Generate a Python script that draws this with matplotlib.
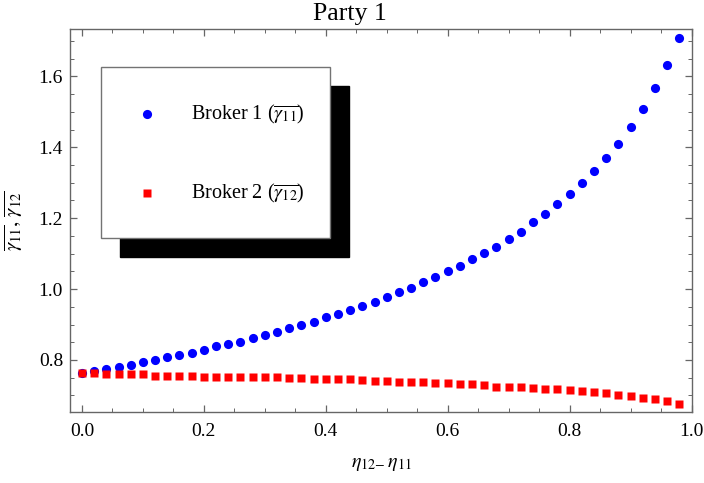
import numpy as np
import matplotlib
matplotlib.use("Agg")
import matplotlib.pyplot as plt
from matplotlib.patches import Rectangle
from matplotlib.ticker import MultipleLocator

plt.rcParams['font.family'] = ['Liberation Serif', 'DejaVu Serif']
plt.rcParams['mathtext.fontset'] = 'stix'

# ---- data ----
eta = [round(0.02 * i, 2) for i in range(50)]
broker1 = [0.762, 0.769, 0.775, 0.780, 0.787, 0.793, 0.799, 0.807, 0.815, 0.821,
           0.829, 0.838, 0.846, 0.852, 0.863, 0.871, 0.880, 0.889,
           0.900, 0.908, 0.920, 0.930, 0.941, 0.952, 0.964, 0.978, 0.992, 1.003,
           1.020, 1.034, 1.050, 1.064, 1.084, 1.101, 1.120, 1.140, 1.162, 1.188,
           1.213, 1.239, 1.267, 1.298, 1.333, 1.370, 1.409, 1.457, 1.507, 1.566,
           1.631, 1.709]
broker2 = [0.762, 0.762, 0.759, 0.759, 0.759, 0.759, 0.756, 0.756, 0.756, 0.756,
           0.753, 0.753, 0.753, 0.751, 0.751, 0.751, 0.751, 0.749, 0.748, 0.747,
           0.747, 0.745, 0.745, 0.743, 0.742, 0.740,
           0.739, 0.737, 0.737, 0.734, 0.734, 0.731, 0.731, 0.728, 0.725, 0.725,
           0.723, 0.720, 0.717, 0.717, 0.714, 0.711, 0.709, 0.706, 0.700, 0.697,
           0.692, 0.689, 0.683, 0.675]
labels = [r"Broker 1 ($\overline{\gamma_{11}}$)", r"Broker 2 ($\overline{\gamma_{12}}$)"]
title = "Party 1"
xlabel = r"$\eta_{12\!-}\eta_{11}$"
ylabel = r"$\overline{\gamma_{11}},\,\overline{\gamma_{12}}$"

W, H = 704, 483
fig = plt.figure(figsize=(W / 100, H / 100), dpi=100)
L, R, T, B = 70, 692, 29.3, 411.7
ax = fig.add_axes([L / W, 1 - B / H, (R - L) / W, (B - T) / H])

ax.plot(eta, broker1, 'o', color=(0, 0, 1), ms=6.6, mec='none', zorder=3)
ax.plot(eta, broker2, 's', color=(1, 0, 0), ms=5.4, mec='none', zorder=3)

ax.set_xlim(-0.0196, 1.0008)
ax.set_ylim(0.654, 1.733)
ax.xaxis.set_major_locator(MultipleLocator(0.2))
ax.xaxis.set_minor_locator(MultipleLocator(0.05))
ax.yaxis.set_major_locator(MultipleLocator(0.2))
ax.yaxis.set_minor_locator(MultipleLocator(0.05))
ax.xaxis.set_major_formatter(matplotlib.ticker.FormatStrFormatter('%.1f'))
ax.yaxis.set_major_formatter(matplotlib.ticker.FormatStrFormatter('%.1f'))
ax.tick_params(which='both', direction='in', top=True, right=True, color='0.4')
ax.tick_params(which='major', length=5, width=0.9, labelsize=14)
ax.tick_params(which='minor', length=3, width=0.7)
ax.tick_params(axis='x', which='major', pad=8)
ax.tick_params(axis='y', which='major', pad=5)
for s in ax.spines.values():
    s.set_color('0.4')
    s.set_linewidth(1.0)

fig.text(0.497, 1 - 14 / H, title, fontsize=18.5, ha='center', va='center')
ax.set_xlabel(xlabel, fontsize=14.5, labelpad=10)
ax.set_ylabel(ylabel, fontsize=15, labelpad=10)

# ---- legend (manual, Mathematica style with black drop shadow) ----
def ax_xy(px, py):
    return (px - L) / (R - L), (B - py) / (B - T)

bx0, by0, bx1, by1 = 101, 66.7, 330, 238.3
off = 19
x0, y0 = ax_xy(bx0 + off, by1 + off)
x1, y1 = ax_xy(bx1 + off, by0 + off)
ax.add_patch(Rectangle((x0, y0), x1 - x0, y1 - y0, transform=ax.transAxes,
                       facecolor='black', edgecolor='black', zorder=5))
x0, y0 = ax_xy(bx0, by1)
x1, y1 = ax_xy(bx1, by0)
ax.add_patch(Rectangle((x0, y0), x1 - x0, y1 - y0, transform=ax.transAxes,
                       facecolor='white', edgecolor='0.45', linewidth=1.0, zorder=6))
for (py, mk, col, ms, lab) in [(114, 'o', (0, 0, 1), 6.6, labels[0]),
                                (193.3, 's', (1, 0, 0), 5.4, labels[1])]:
    mx, my = ax_xy(147.3, py)
    ax.plot([mx], [my], mk, color=col, ms=ms, mec='none', transform=ax.transAxes,
            zorder=7, clip_on=False)
    tx, ty = ax_xy(190.7, py)
    ax.text(tx, ty, lab, transform=ax.transAxes, fontsize=14.5, va='center',
            ha='left', zorder=7)

fig.savefig("out.png", dpi=100)
